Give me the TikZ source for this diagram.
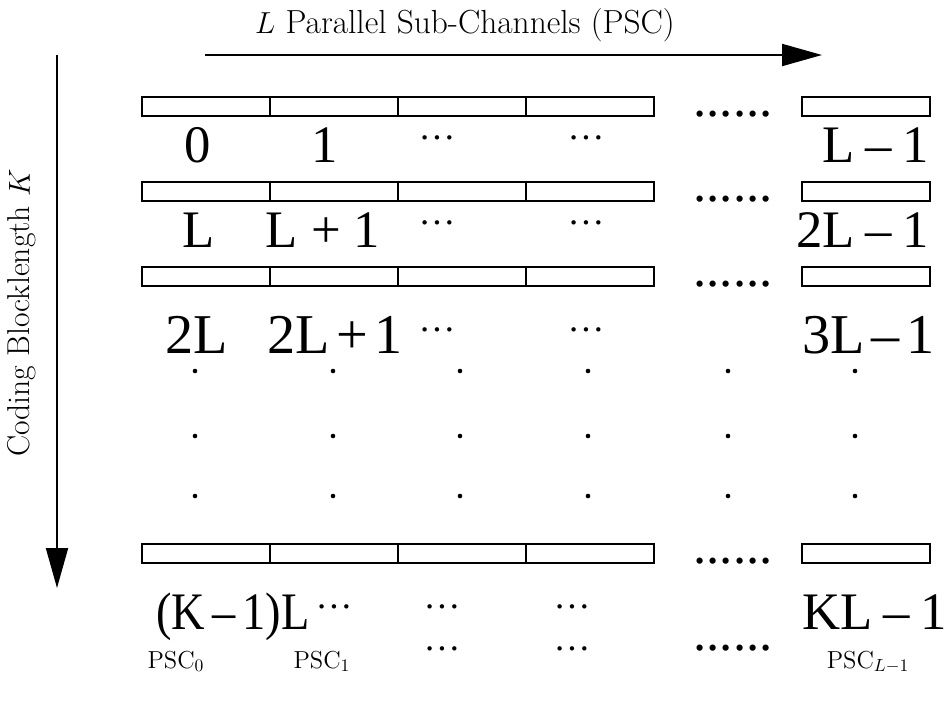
\documentclass[tikz,border=0pt]{standalone}
\usepackage{fontspec}
\newfontfamily\tms{Liberation Serif}
\newcommand\mnus{\hspace{0.2em}–\hspace{0.2em}}
\newcommand\mnust{\hspace{0.12em}–\hspace{0.12em}}
\newcommand\mnusm{\hspace{0.15em}–\hspace{0.15em}}
\usetikzlibrary{arrows.meta}
\begin{document}
\begin{tikzpicture}[x=0.02cm,y=-0.02cm,
  cell/.style={draw,line width=1.1pt},
  axis/.style={line width=1.1pt,-{Triangle[length=0.8cm,width=0.44cm]}},
  big/.style={font=\tms\fontsize{30}{32}\selectfont,inner sep=0pt,anchor=base},
  bigr/.style={big,anchor=base east},
  ell/.style={font=\tms\fontsize{21}{23}\selectfont,inner sep=0pt,anchor=base},
  lm/.style={font=\fontsize{19}{22}\selectfont,inner sep=0pt},
  psc/.style={font=\fontsize{14}{16}\selectfont,inner sep=0pt,anchor=base},
  vdot/.style={fill=black}]
\useasboundingbox (0,0) rectangle (950,704);
% axes
\coordinate (hs) at (205,55);
\coordinate (he) at (822,55);
\coordinate (vs) at (57,55);
\coordinate (ve) at (57,588);
\draw[axis] (hs) -- (he);
\draw[axis] (vs) -- (ve);
\node[lm,anchor=base] (toplab) at (465,33) {$L$ Parallel Sub-Channels (PSC)};
\node[lm,rotate=90,font=\fontsize{18}{20}\selectfont] (sidelab) at (22,313) {Coding Blocklength $K$};
% rows of boxes
\foreach \y/\n in {97/a,182/b,267/c,544/d}{
  \draw[cell] (142,\y) rectangle (654,\y+19);
  \foreach \x in {270,398,526}{\draw[cell] (\x,\y) -- (\x,\y+19);}
  \draw[cell] (802,\y) rectangle (930,\y+19);
  \node[big] (dd\n) at (733,\y+19) {......};
}
% row 1
\node[big] (r1a) at (198,162) {0};
\node[big] (r1b) at (325,162) {1};
\node[ell] (r1c) at (437,139) {…};
\node[ell] (r1d) at (586,139) {…};
\node[bigr] (r1e) at (929,162) {L\mnus1};
% row 2
\node[big] (r2a) at (199,247) {L};
\node[big] (r2b) at (323,247) {L + 1};
\node[ell] (r2c) at (437,224) {…};
\node[ell] (r2d) at (586,224) {…};
\node[bigr] (r2e) at (929,247) {2L\mnus1};
% row 3
\node[big,font=\tms\fontsize{32}{34}\selectfont] (r3a) at (197,353) {2L};
\node[big,font=\tms\fontsize{32}{34}\selectfont] (r3b) at (335,353) {2L\hspace{0.12em}+\hspace{0.12em}1};
\node[ell] (r3c) at (437,331) {…};
\node[ell] (r3d) at (586,331) {…};
\node[bigr,font=\tms\fontsize{32}{34}\selectfont] (r3e) at (935,353) {3L\mnust1};
% vertical dots
\foreach \x in {195,333,460,588,728,855}{
  \foreach \y in {371,436,496}{\fill[vdot] (\x,\y) circle (2.3);}
}
% row 4
\node[big] (r4a) at (233,629) {\scalebox{0.88}[1]{(K\mnusm1)L}};
\node[ell] (r4b) at (334,608) {…};
\node[ell] (r4c) at (442,608) {…};
\node[ell] (r4d) at (572,608) {…};
\node[bigr] (r4e) at (947,629) {KL\mnus1};
% bottom labels
\node[psc] (p0) at (176,668) {PSC$_0$};
\node[psc] (p1) at (322,668) {PSC$_1$};
\node[ell] (p2) at (442,650) {…};
\node[ell] (p3) at (572,650) {…};
\node[big] (p4) at (733,650) {......};
\node[psc] (p5) at (868,668) {PSC$_{L-1}$};
\end{tikzpicture}
\end{document}
